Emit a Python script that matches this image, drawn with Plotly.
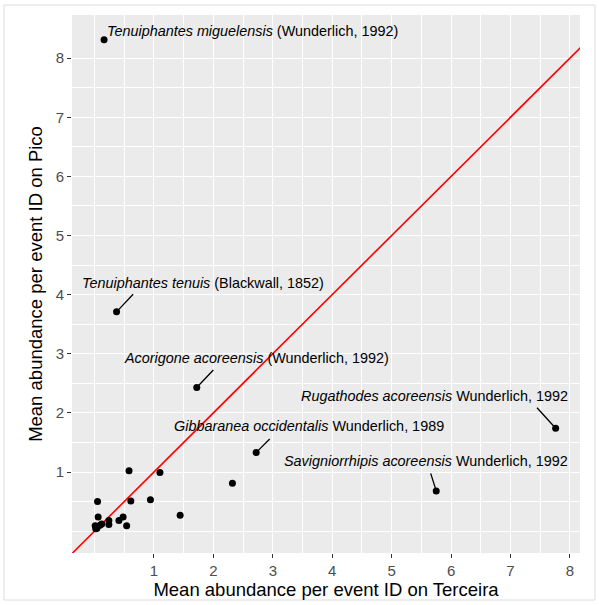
import plotly.graph_objects as go

# ---- data ----
terceira = [0.16, 0.37, 1.72, 2.72, 7.76, 5.75, 2.32, 1.44,
            0.58, 1.10, 0.05, 0.61, 0.94, 0.06, 0.24, 0.24,
            0.41, 0.48, 0.54, 0.01, 0.02, 0.09, 0.04, 0.12]
pico = [8.31, 3.71, 2.43, 1.33, 1.74, 0.68, 0.81, 0.27,
        1.02, 0.99, 0.50, 0.51, 0.53, 0.24, 0.18, 0.11,
        0.18, 0.24, 0.09, 0.09, 0.04, 0.10, 0.05, 0.12]

species = ["Tenuiphantes miguelensis", "Tenuiphantes tenuis", "Acorigone acoreensis",
           "Gibbaranea occidentalis", "Rugathodes acoreensis", "Savigniorrhipis acoreensis"]
authors = ["(Wunderlich, 1992)", "(Blackwall, 1852)", "(Wunderlich, 1992)",
           "Wunderlich, 1989", "Wunderlich, 1992", "Wunderlich, 1992"]

x_ticks = [1, 2, 3, 4, 5, 6, 7, 8]
y_ticks = [1, 2, 3, 4, 5, 6, 7, 8]
minor_ticks = [0, 0.5, 1.5, 2.5, 3.5, 4.5, 5.5, 6.5, 7.5]

x_title = "Mean abundance per event ID on Terceira"
y_title = "Mean abundance per event ID on Pico"

# ---- label layout (pixel offsets from each labelled point) ----
label_style = [
    # xanchor, xshift, yshift, segment dx, segment dy (None = no segment)
    ("left", 2, 9, None, None),
    ("left", -36, 29, 18, -19),
    ("left", -74, 29, 18, -19),
    ("left", -83, 26, 15, -15),
    ("right", 13, 32, -20, -22),
    ("right", 133, 30, -6, -19),
]

xr = [-0.38, 8.17]
yr = [-0.37, 8.73]

FONT = "Liberation Sans, Arial, sans-serif"

fig = go.Figure()

# y = x reference line
lo, hi = min(xr[0], yr[0]) - 1, max(xr[1], yr[1]) + 1
fig.add_trace(go.Scatter(x=[lo, hi], y=[lo, hi], mode="lines",
                         line=dict(color="#FF0000", width=1.6),
                         hoverinfo="skip", showlegend=False))

fig.add_trace(go.Scatter(x=terceira, y=pico, mode="markers",
                         marker=dict(color="black", size=7),
                         showlegend=False, cliponaxis=False))

label_font = dict(family=FONT, size=14.4, color="black")
for i, (sp, au) in enumerate(zip(species, authors)):
    xa, xs, ys, dx, dy = label_style[i]
    fig.add_annotation(x=terceira[i], y=pico[i], xref="x", yref="y",
                       text=f"<i>{sp}</i> {au}", showarrow=False,
                       xanchor=xa, yanchor="middle", xshift=xs, yshift=ys,
                       font=label_font, borderpad=0)
    if dx is not None:
        fig.add_annotation(x=terceira[i], y=pico[i], xref="x", yref="y",
                           text="", showarrow=True, ax=dx, ay=dy,
                           axref="pixel", ayref="pixel",
                           arrowhead=0, arrowwidth=1.3, arrowcolor="black",
                           standoff=3)

axis_common = dict(
    showline=False, zeroline=False,
    gridcolor="white", gridwidth=1.3,
    ticks="outside", ticklen=4, tickwidth=1.1, tickcolor="#333333",
    tickfont=dict(family=FONT, size=15, color="#4D4D4D"),
    tickmode="array",
    minor=dict(tickvals=minor_ticks, showgrid=True, gridcolor="white", gridwidth=0.6, ticks=""),
)

fig.update_xaxes(range=xr, tickvals=x_ticks, ticktext=[str(v) for v in x_ticks],
                 title=dict(text=x_title, standoff=3,
                            font=dict(family=FONT, size=18.5, color="black")),
                 **axis_common)
fig.update_yaxes(range=yr, tickvals=y_ticks, ticktext=[str(v) for v in y_ticks],
                 title=dict(text=y_title, standoff=8,
                            font=dict(family=FONT, size=18.5, color="black")),
                 **axis_common)

# thin light frame around the whole image
W, H = 599, 605
L, R, T, B = 72, 19, 15, 52
pw, ph = W - L - R, H - T - B
fig.add_shape(type="rect", xref="paper", yref="paper",
              x0=(4 - L) / pw, x1=(595 - L) / pw,
              y0=(H - B - 600) / ph, y1=(H - B - 5) / ph,
              line=dict(color="#dcdcd8", width=1), fillcolor="rgba(0,0,0,0)", layer="below")

fig.update_layout(
    width=W, height=H,
    margin=dict(l=L, r=R, t=T, b=B, autoexpand=False),
    plot_bgcolor="#EBEBEB", paper_bgcolor="white",
    showlegend=False,
)

fig.write_html("out.html",
               config={"displayModeBar": False},
               post_script="document.body.style.margin='0px';document.body.style.overflow='hidden';")
